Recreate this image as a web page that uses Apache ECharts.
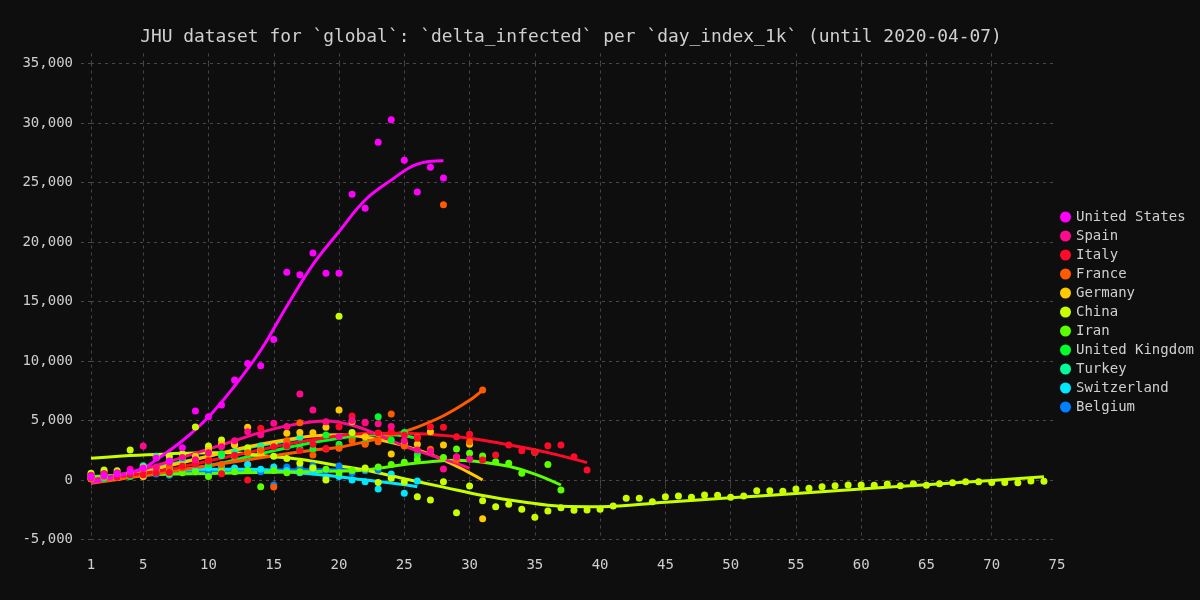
<!DOCTYPE html>
<html><head><meta charset="utf-8">
<script src="https://cdn.jsdelivr.net/npm/echarts@6/dist/echarts.min.js"></script>
<style>html,body{margin:0;padding:0;background:#0e0e0e}#c{width:1200px;height:600px}</style>
</head><body><div id="c"></div>
<script>
const countryNames = ['United States','Spain','Italy','France','Germany','China','Iran','United Kingdom','Turkey','Switzerland','Belgium'];
const countryColors = ['#ff00ff','#ff0a8c','#ff0a28','#ff5a00','#ffc800','#c8ff00','#5aff00','#00ff2a','#00ff9a','#00e8ff','#0080ff'];
const xTickValues = [1,5,10,15,20,25,30,35,40,45,50,55,60,65,70];
const xLabelValues = [1,5,10,15,20,25,30,35,40,45,50,55,60,65,70,75];

const usPts = [[1,250],[2,350],[3,500],[4,700],[5,1000],[6,1850],[7,1600],[8,2700],[9,5800],[10,5320],[11,6300],[12,8400],[13,9800],[14,9600],[15,11800],[16,17450],[17,17250],[18,19075],[19,17370],[20,17370],[21,24010],[22,22830],[23,28380],[24,30280],[25,26860],[26,24200],[27,26280],[28,25380]];
const usTrend = [[1,-200],[3,300],[5,1000],[6,1700],[8,3300],[10,5300],[12,7900],[14,10900],[16,14600],[18,18100],[20,20870],[22,23530],[24,25200],[26,26550],[28,26830]];

const spainPts = [[1,400],[2,500],[3,600],[4,900],[5,2860],[6,1100],[7,1500],[8,1900],[9,1700],[10,2300],[11,2800],[12,3300],[13,4060],[14,3800],[15,4760],[16,4500],[17,7230],[18,5880],[19,4900],[20,3640],[21,5000],[22,4850],[23,4730],[24,4500],[25,3300],[26,2520],[27,2400],[28,925],[29,1960],[30,1765]];
const spainTrend = [[1,0],[3,400],[5,900],[8,1900],[10,2600],[12,3300],[14,4000],[16,4550],[18,4900],[19,4950],[21,4600],[23,3800],[25,2850],[27,2100],[29,1400],[30,980]];

const italyPts = [[1,230],[2,530],[3,260],[4,430],[5,440],[6,590],[7,620],[8,1150],[9,1330],[10,1600],[11,530],[12,2080],[13,0],[14,4340],[15,2800],[16,2850],[17,2470],[18,3000],[19,2650],[20,4480],[21,5380],[22,4820],[23,3960],[24,4060],[25,3780],[26,3500],[27,4480],[28,4430],[29,3640],[30,3840],[31,1680],[32,2100],[33,2940],[34,2460],[35,2340],[36,2880],[37,2940],[38,1960],[39,840]];
const italyTrend = [[1,0],[4,400],[7,900],[10,1600],[13,2300],[16,3000],[19,3550],[22,3900],[25,3920],[28,3750],[30,3500],[33,2950],[36,2300],[39,1460]];

const francePts = [[1,100],[2,300],[3,200],[4,500],[5,700],[6,900],[7,1100],[8,1000],[9,1500],[10,1700],[11,1300],[12,2000],[13,2300],[14,2500],[15,-590],[16,3300],[17,4815],[18,2100],[19,2600],[20,2660],[21,3300],[22,3000],[23,3220],[24,5550],[25,2860],[26,3600],[27,2580],[28,23130],[29,1680],[30,3220],[31,7560]];
const franceTrend = [[1,-280],[4,200],[7,700],[10,1200],[13,1700],[16,2200],[18,2500],[20,2750],[22,3220],[24,3750],[26,4450],[28,5400],[30,6700],[31,7560]];

const germanyPts = [[1,100],[2,300],[3,200],[4,500],[5,300],[6,1000],[7,1500],[8,1200],[9,2000],[10,2500],[11,3030],[12,2940],[13,4430],[14,2300],[15,3000],[16,3920],[17,4000],[18,3980],[19,4430],[20,5880],[21,4900],[22,3640],[23,3900],[24,2180],[25,3080],[26,3000],[27,4060],[28,2940],[29,1900],[30,3000],[31,-3250]];
const germanyTrend = [[1,-150],[4,400],[7,1200],[10,2000],[13,2800],[16,3400],[18,3700],[20,3800],[22,3600],[24,3150],[26,2550],[28,1700],[30,600],[31,0]];

const chinaPts = [[1,560],[2,840],[3,780],[4,2520],[5,1070],[6,1900],[7,2000],[8,2200],[9,4450],[10,2860],[11,3360],[12,3000],[13,2700],[14,2500],[15,2000],[16,1800],[17,1400],[18,1000],[19,0],[20,13760],[21,4000],[22,1000],[23,-200],[24,140],[25,-170],[26,-1400],[27,-1680],[28,-140],[29,-2750],[30,-500],[31,-1740],[32,-2240],[33,-2040],[34,-2460],[35,-3130],[36,-2600],[37,-2330],[38,-2550],[39,-2520],[40,-2460],[41,-2180],[42,-1540],[43,-1540],[44,-1820],[45,-1400],[46,-1345],[47,-1455],[48,-1260],[49,-1290],[50,-1455],[51,-1345],[52,-900],[53,-900],[54,-950],[55,-760],[56,-700],[57,-560],[58,-480],[59,-420],[60,-420],[61,-450],[62,-340],[63,-480],[64,-310],[65,-450],[66,-310],[67,-225],[68,-140],[69,-140],[70,-200],[71,-200],[72,-225],[73,-85],[74,-110]];
const chinaTrend = [[1,1820],[4,2050],[7,2200],[10,2300],[12,2300],[14,2050],[17,1740],[20,1200],[22,840],[25,100],[28,-600],[31,-1300],[34,-1820],[37,-2200],[40,-2240],[45,-1870],[50,-1500],[55,-1130],[60,-760],[65,-390],[70,-40],[74,280]];

const iranPts = [[1,400],[2,700],[3,500],[4,500],[5,400],[6,800],[7,500],[8,600],[9,700],[10,300],[11,800],[12,700],[13,800],[14,-560],[15,800],[16,600],[17,700],[18,1000],[19,900],[20,600],[21,800],[22,900],[23,1100],[24,1300],[25,1500],[26,1700],[27,2400],[28,1900],[29,2600],[30,2240],[31,2020],[32,1540],[33,1400],[34,560],[35,2330],[36,1300],[37,-840]];
const iranTrend = [[1,300],[5,450],[10,550],[15,650],[20,750],[22,840],[25,1300],[27,1540],[29,1650],[31,1500],[33,1150],[35,500],[37,-420]];

const ukPts = [[1,200],[2,150],[3,400],[4,300],[5,600],[6,600],[7,1000],[8,1200],[9,1500],[10,1300],[11,2200],[12,2000],[13,2500],[14,2300],[15,3000],[16,2800],[17,2600],[18,2600],[19,3780],[20,3000],[21,3500],[22,3080],[23,5320],[24,3360],[25,4000],[26,2100]];
const ukTrend = [[1,0],[5,400],[10,1200],[14,2200],[17,2940],[20,3500],[22,3780],[24,3800],[26,3500]];

const turkeyPts = [[1,280],[2,290],[3,340],[4,560],[5,1190],[6,2000],[7,1650],[8,1750],[9,1550],[10,2600],[11,2050],[12,2350],[13,2650],[14,2850],[15,2950],[16,2900],[17,3600]];
const turkeyTrend = [[1,200],[4,600],[7,1300],[10,2000],[13,2700],[15,3100],[17,3500]];

const swissPts = [[1,200],[2,300],[3,200],[4,500],[5,600],[6,700],[7,900],[8,1100],[9,800],[10,1000],[11,1200],[12,1000],[13,1300],[14,900],[15,1100],[16,800],[17,600],[18,700],[19,200],[20,300],[21,0],[22,-140],[23,-760],[24,500],[25,-1120],[26,-85]];
const swissTrend = [[1,100],[4,400],[7,700],[10,900],[13,900],[16,700],[19,400],[22,0],[24,-250],[26,-560]];

const belgiumPts = [[1,100],[2,200],[3,300],[4,400],[5,300],[6,500],[7,400],[8,600],[9,700],[10,700],[11,1000],[12,900],[13,1300],[14,700],[15,-420],[16,1100],[17,1000],[18,1200],[19,800],[20,1180],[21,610],[22,780],[23,840]];
const belgiumTrend = [[1,150],[5,400],[10,700],[15,850],[20,870],[23,840]];

const allPts = [usPts, spainPts, italyPts, francePts, germanyPts, chinaPts, iranPts, ukPts, turkeyPts, swissPts, belgiumPts];
const allTrends = [usTrend, spainTrend, italyTrend, franceTrend, germanyTrend, chinaTrend, iranTrend, ukTrend, turkeyTrend, swissTrend, belgiumTrend];

const FONT = 'DejaVu Sans Mono';
const gridColor = '#474747';
const series = [];
for (let i = countryNames.length - 1; i >= 0; i--) {
  const c = countryColors[i];
  series.push({
    type: 'line', name: countryNames[i], data: allTrends[i], smooth: 0.4,
    symbol: 'none', showSymbol: false, lineStyle: { width: 3, color: c },
    itemStyle: { color: c }, z: 2, silent: true
  });
  series.push({
    type: 'scatter', name: countryNames[i], data: allPts[i], symbolSize: 7,
    itemStyle: { color: c, opacity: 1 }, z: 3
  });
}

const chart = echarts.init(document.getElementById('c'), null, { renderer: 'canvas' });
chart.setOption({
  backgroundColor: '#0e0e0e',
  animation: false,
  textStyle: { fontFamily: FONT },
  title: {
    text: 'JHU dataset for `global`: `delta_infected` per `day_index_1k` (until 2020-04-07)',
    left: 566, textAlign: 'center', top: 23,
    textStyle: { color: '#cfcfcf', fontFamily: FONT, fontSize: 17.9, fontWeight: 'normal' }
  },
  legend: {
    orient: 'vertical', left: 1060, top: 210, icon: 'circle', padding: 0,
    itemWidth: 11, itemHeight: 11, itemGap: 5,
    data: countryNames,
    textStyle: { color: '#cfcfcf', fontFamily: FONT, fontSize: 14, lineHeight: 14 }
  },
  grid: { left: 91, right: 143, top: 63.5, bottom: 60.5, containLabel: false },
  xAxis: [{
    type: 'value', min: 1, max: 75, position: 'bottom',
    axisLine: { show: false },
    axisTick: { show: true, length: 8.5, customValues: xTickValues, lineStyle: { color: gridColor, type: [3, 4] } },
    axisLabel: { customValues: xLabelValues, color: '#cfcfcf', fontFamily: FONT, fontSize: 14, margin: 19 },
    splitLine: { show: true, lineStyle: { color: gridColor, type: [3, 4] } }
  }, {
    type: 'value', min: 1, max: 75, position: 'top',
    axisLine: { show: false },
    axisTick: { show: true, length: 11.5, customValues: xTickValues, lineStyle: { color: gridColor, type: [3, 4] } },
    axisLabel: { show: false },
    splitLine: { show: false }
  }],
  yAxis: {
    type: 'value', min: -5000, max: 35000, interval: 5000,
    axisLine: { show: false },
    axisTick: { show: true, length: 11, lineStyle: { color: gridColor, type: [3, 4] } },
    axisLabel: { color: '#cfcfcf', fontFamily: FONT, fontSize: 14, margin: 18,
      formatter: v => v.toLocaleString('en-US') },
    splitLine: { show: true, lineStyle: { color: gridColor, type: [3, 4] } }
  },
  series: series
});
</script></body></html>
